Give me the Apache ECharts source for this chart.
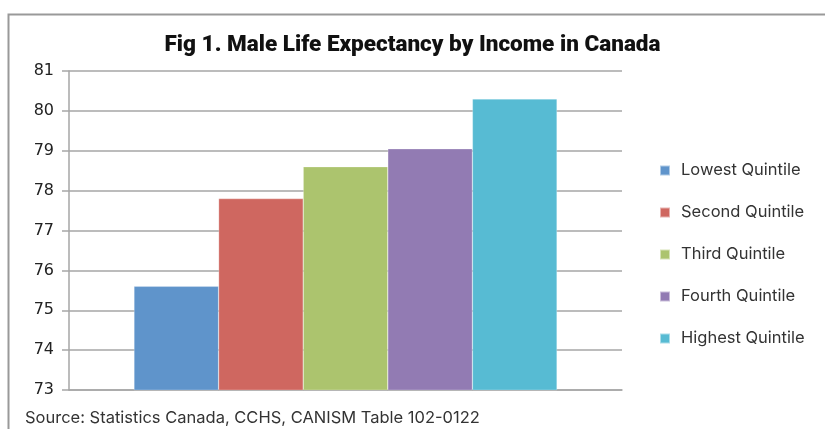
<!DOCTYPE html>
<html>
<head>
<meta charset="utf-8">
<script src="https://cdn.jsdelivr.net/npm/echarts@6/dist/echarts.min.js"></script>
<style>html,body{margin:0;padding:0;background:#fff;}#c{width:825px;height:429px;}</style>
</head>
<body>
<div id="c"></div>
<script>
const categories = [''];
const seriesNames = ['Lowest Quintile', 'Second Quintile', 'Third Quintile', 'Fourth Quintile', 'Highest Quintile'];
const seriesValues = [75.6, 77.8, 78.6, 79.05, 80.3];
const seriesColors = ['#5f94cb', '#cf6760', '#acc46e', '#927bb3', '#57bbd3'];
const yTicks = [73, 74, 75, 76, 77, 78, 79, 80, 81];

const chart = echarts.init(document.getElementById('c'));
chart.setOption({
  animation: false,
  title: {
    text: 'Fig 1. Male Life Expectancy by Income in Canada',
    left: 'center', top: 29,
    textStyle: { fontFamily: 'Roboto', fontWeight: 900, fontSize: 22.5, color: '#111' }
  },
  legend: {
    orient: 'vertical', left: 659, top: 161, padding: 0,
    itemWidth: 10, itemHeight: 10, itemGap: 23,
    icon: 'rect',
    textStyle: { fontFamily: 'Inter', fontSize: 16.5, color: '#333', lineHeight: 19, padding: [0, 0, 0, 6] },
    data: seriesNames
  },
  grid: { left: 69, right: 203, top: 71, bottom: 39 },
  xAxis: {
    type: 'category', data: categories,
    axisLine: { lineStyle: { color: '#a6a6a6', width: 1.5 } },
    axisTick: { show: false }, axisLabel: { show: false }
  },
  yAxis: {
    type: 'value', min: yTicks[0], max: yTicks[yTicks.length - 1], interval: 1,
    axisLine: { show: true, lineStyle: { color: '#a6a6a6', width: 1.5 } },
    axisTick: { show: true, length: 7, lineStyle: { color: '#a6a6a6', width: 1.5 } },
    axisLabel: { margin: 15, fontFamily: 'DejaVu Sans', fontSize: 16, color: '#222' },
    splitLine: { lineStyle: { color: '#a6a6a6', width: 1.5 } }
  },
  series: seriesNames.map((n, i) => ({
    name: n, type: 'bar',
    data: [seriesValues[i]],
    barGap: '0%', barCategoryGap: '23.5%',
    itemStyle: { color: seriesColors[i], borderColor: 'rgba(255,255,255,0.5)', borderWidth: 0.5 }
  })),
  graphic: [
    { type: 'rect', left: 6, top: 12, shape: { width: 900, height: 500 }, style: { fill: 'none', stroke: '#999', lineWidth: 2 }, silent: true },
    { type: 'text', left: 25, top: 410, style: { text: 'Source: Statistics Canada, CCHS, CANISM Table 102-0122', font: '16.5px Inter', fill: '#333' } }
  ]
});
</script>
</body>
</html>
